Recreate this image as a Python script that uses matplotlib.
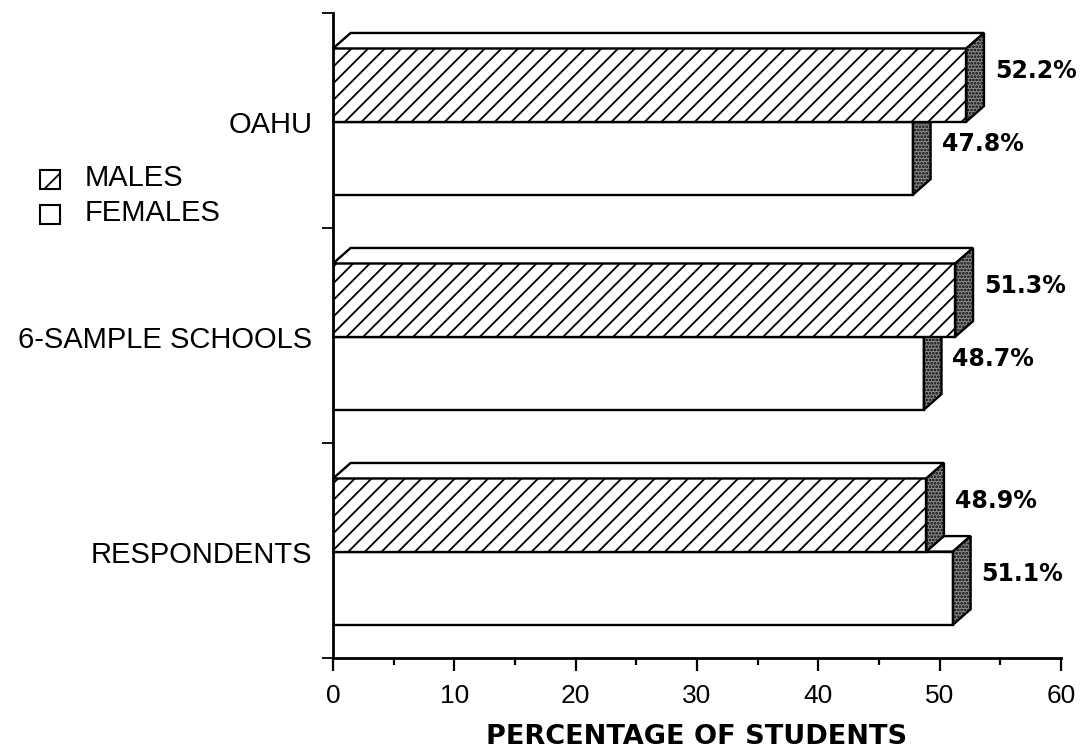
import numpy as np
import matplotlib
matplotlib.use('Agg')
import matplotlib.pyplot as plt
from matplotlib.patches import Polygon, Rectangle

# percentage of students by sex, bottom group first
groups = ['RESPONDENTS', '6-SAMPLE SCHOOLS', 'OAHU']
males = [48.9, 51.3, 52.2]
females = [51.1, 48.7, 47.8]
x_ticks = [0, 10, 20, 30, 40, 50, 60]

plt.rcParams['font.family'] = ['Liberation Sans', 'DejaVu Sans']
plt.rcParams['hatch.linewidth'] = 1.3

fig = plt.figure(figsize=(10.82, 7.5), dpi=100)
ax = fig.add_axes([0.3078, 0.1227, 0.6728, 0.86])
ax.set_xlim(0, 60)
ax.set_ylim(0, 3)

bar_h = 0.34
base = 0.155
dx, dy = 1.45, 0.072   # depth of the 3-D faces, in data units
lw = 1.7


def draw_bar(value, y0, hatch):
    # front face
    ax.barh(y0, value, height=bar_h, left=0, align='edge', facecolor='white',
            edgecolor='black', linewidth=lw, hatch=hatch, zorder=2)
    # top face
    top = [(0, y0 + bar_h), (dx, y0 + bar_h + dy),
           (value + dx, y0 + bar_h + dy), (value, y0 + bar_h)]
    ax.add_patch(Polygon(top, closed=True, facecolor='white', edgecolor='black',
                         linewidth=lw, zorder=2, clip_on=False))
    # shaded end face
    side = [(value, y0), (value + dx, y0 + dy),
            (value + dx, y0 + bar_h + dy), (value, y0 + bar_h)]
    ax.add_patch(Polygon(side, closed=True, facecolor='0.55', edgecolor='black',
                         hatch='.....', linewidth=lw, zorder=2, clip_on=False))
    ax.text(value + dx + 0.9, y0 + bar_h / 2 + 0.065, f'{value:.1f}%',
            family='DejaVu Sans', fontweight='bold', fontsize=17,
            ha='left', va='center')


for g in range(len(groups)):
    draw_bar(females[g], g + base, None)
    draw_bar(males[g], g + base + bar_h, '//')

# axes styling
for s in ['top', 'right']:
    ax.spines[s].set_visible(False)
for s in ['left', 'bottom']:
    ax.spines[s].set_linewidth(2)

ax.set_xticks(x_ticks)
ax.set_xticks(np.arange(5, 60, 10), minor=True)
ax.tick_params(axis='x', which='major', length=9, width=1.6, pad=10, labelsize=19)
ax.tick_params(axis='x', which='minor', length=5, width=1.6)

ax.set_yticks([0, 1, 2, 3])
ax.set_yticklabels([])
ax.tick_params(axis='y', which='major', length=8, width=1.3)
ax.set_yticks([g + base + bar_h for g in range(len(groups))], labels=groups, minor=True)
ax.tick_params(axis='y', which='minor', length=0, pad=15, labelsize=21)

fig.text(0.644, 0.0173, 'PERCENTAGE OF STUDENTS', family='DejaVu Sans',
         fontweight='bold', fontsize=19.5, ha='center', va='center')

# legend
fig.add_artist(Rectangle((0.037, 0.748), 0.0185, 0.0253, transform=fig.transFigure,
                         facecolor='white', edgecolor='black', linewidth=1.5, hatch='/'))
fig.add_artist(Rectangle((0.037, 0.7013), 0.0185, 0.0253, transform=fig.transFigure,
                         facecolor='white', edgecolor='black', linewidth=1.5))
fig.text(0.0786, 0.763, 'MALES', fontsize=21, ha='left', va='center')
fig.text(0.0786, 0.716, 'FEMALES', fontsize=21, ha='left', va='center')

fig.savefig('out.png', dpi=100)
